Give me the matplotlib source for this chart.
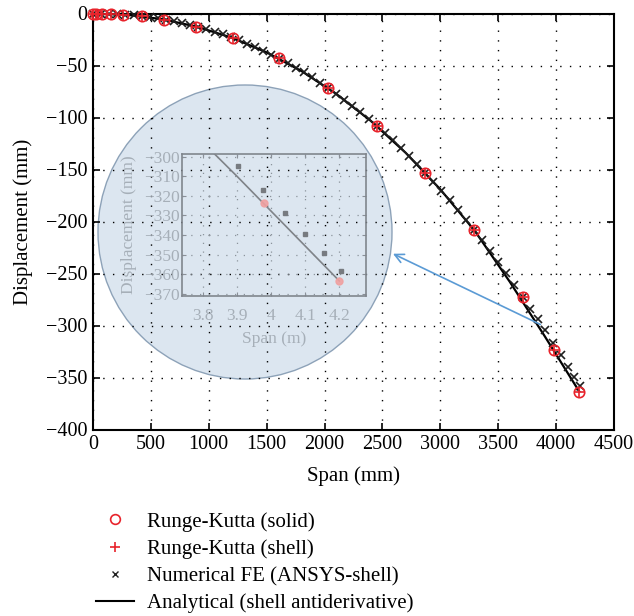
import matplotlib
matplotlib.use("Agg")
import matplotlib.pyplot as plt
from matplotlib.patches import Ellipse
from matplotlib.lines import Line2D

plt.rcParams['font.family'] = ['Liberation Serif', 'DejaVu Serif']
plt.rcParams['mathtext.fontset'] = 'stix'

# === DATA ===
# Runge-Kutta (solid) and (shell), span in mm, displacement in mm
rk_x = [0, 30, 80, 155, 260, 420, 615, 890, 1210, 1610, 2030, 2450, 2870,
        3290, 3710, 3980, 4200]
rk_solid_y = [0.0, 0.0, -0.1, -0.4, -1.0, -2.7, -5.8, -12.5, -23.7, -43.0,
              -71.7, -108.0, -153.3, -208.5, -273.0, -323.5, -363.5]
rk_shell_y = [0.0, 0.0, -0.1, -0.4, -1.0, -2.7, -5.8, -12.5, -23.7, -43.0,
              -71.7, -108.0, -153.3, -208.5, -273.0, -323.5, -363.5]

# Numerical FE (ANSYS-shell) nodes
fe_x = [0, 70, 140, 210, 280, 350, 420, 490, 560, 630, 700, 770, 840, 910,
        980, 1050, 1120, 1190, 1260, 1330, 1400, 1470, 1540, 1610, 1680,
        1750, 1820, 1890, 1960, 2030, 2100, 2170, 2240, 2310, 2380, 2450,
        2520, 2590, 2660, 2730, 2800, 2870, 2940, 3010, 3080, 3150, 3220,
        3290, 3360, 3430, 3500, 3570, 3640, 3710, 3775, 3840, 3904, 3975,
        4041, 4100, 4156, 4205]
fe_y = [0.0, -0.07, -0.29, -0.65, -1.17, -1.83, -2.66, -3.64, -4.79, -6.10,
        -7.58, -9.24, -11.06, -13.07, -15.25, -17.62, -20.18, -22.92, -25.86,
        -28.99, -32.32, -35.85, -39.58, -43.52, -47.67, -52.04, -56.62,
        -61.42, -66.44, -71.69, -77.16, -82.86, -88.80, -94.98, -101.39,
        -108.05, -114.95, -122.10, -129.50, -137.16, -145.08, -153.25,
        -161.69, -170.40, -179.37, -188.62, -198.14, -207.93, -218.02,
        -228.38, -239.04, -249.99, -261.22, -272.76, -283.7, -294.0, -304.7,
        -317.1, -328.8, -339.5, -349.2, -358.3]

# Analytical (shell antiderivative)
an_x = [0, 300, 600, 900, 1200, 1500, 1800, 2100, 2400, 2700, 3000, 3300,
        3600, 3900, 4200]
an_y = [0.0, -1.3, -5.5, -12.8, -23.3, -37.4, -55.3, -77.2, -103.3, -133.9,
        -169.1, -209.4, -258.0, -310.0, -363.5]

x_ticks = [0, 500, 1000, 1500, 2000, 2500, 3000, 3500, 4000, 4500]
y_ticks = [0, -50, -100, -150, -200, -250, -300, -350, -400]
inset_x_ticks = [3.8, 3.9, 4.0, 4.1, 4.2]
inset_x_labels = ['3.8', '3.9', '4', '4.1', '4.2']
inset_y_ticks = [-300, -310, -320, -330, -340, -350, -360, -370]

RED = '#e8232b'
W, H = 634, 616

fig = plt.figure(figsize=(W / 100, H / 100), dpi=100)
ax = fig.add_axes([93 / W, 1 - 429.5 / H, (614 - 93) / W, (429.5 - 13.5) / H])

ax.plot(an_x, an_y, color='black', lw=1.6, zorder=3)
ax.plot(fe_x, fe_y, ls='none', marker='x', ms=6, mew=1.2, color='#1e1e1e',
        zorder=4, clip_on=False)
ax.plot(rk_x, rk_solid_y, ls='none', marker='o', ms=7.5, mfc='none',
        mec=RED, mew=1.2, zorder=5, clip_on=False)
ax.plot(rk_x, rk_shell_y, ls='none', marker='+', ms=7.5, mew=1.2,
        color=RED, zorder=5, clip_on=False)

ax.set_xlim(0, 4500)
ax.set_ylim(-400, 0)
ax.set_xticks(x_ticks)
ax.set_yticks(y_ticks)
ax.grid(True, color='black', lw=1.0, ls=(0, (1, 6)))
ax.tick_params(direction='in', top=True, right=True, length=5, width=1.2,
               labelsize=14.5, pad=4)
for s in ax.spines.values():
    s.set_linewidth(1.5)
ax.set_xlabel('Span (mm)', fontsize=15, labelpad=9)
ax.set_ylabel('Displacement (mm)', fontsize=15, labelpad=9)

# zoom circle (drawn in figure pixels so it stays round)
cx, cy, r = 245, 232, 147
circ = Ellipse((cx / W, 1 - cy / H), 2 * r / W, 2 * r / H,
               transform=fig.transFigure, facecolor='#dce6f0',
               edgecolor='#8da2b8', lw=1.0, zorder=1)
ax.add_patch(circ)

ax.annotate('', xy=(2591, -231), xytext=(3864, -299),
            arrowprops=dict(arrowstyle='->', color='#5b9bd5', lw=1.2,
                            mutation_scale=16, shrinkA=0, shrinkB=0),
            zorder=6)

# inset
GREY_TXT = '#a6afb8'
axi = fig.add_axes([182.3 / W, 1 - 295.7 / H, (365.7 - 182.3) / W,
                    (295.7 - 153.7) / H])
axi.patch.set_visible(False)
ins_an_x = [v / 1000 for v in an_x[-3:]]
axi.plot(ins_an_x, an_y[-3:], color='#7f8388', lw=1.2)
axi.plot([v / 1000 for v in fe_x], fe_y, ls='none', marker='s', ms=2.5,
         color='#777b80')
axi.plot([v / 1000 for v in rk_x], rk_solid_y, ls='none', marker='o', ms=5,
         color='#f0a0a0', alpha=0.9)
axi.set_xlim(3.74, 4.277)
axi.set_ylim(-371, -298.5)
axi.set_xticks(inset_x_ticks)
axi.set_xticklabels(inset_x_labels)
axi.set_yticks(inset_y_ticks)
axi.grid(True, color='#8c949c', lw=0.9, ls=(0, (1, 6)))
axi.tick_params(direction='in', top=True, right=True, length=3,
                color='#8a9098', labelsize=12.5, labelcolor=GREY_TXT, pad=2)
axi.tick_params(axis='x', pad=9)
for s in axi.spines.values():
    s.set_color('#80868d')
    s.set_linewidth(1.2)
axi.set_xlabel('Span (m)', fontsize=12.5, color=GREY_TXT, labelpad=5)
axi.set_ylabel('Displacement (mm)', fontsize=12.5, color=GREY_TXT, labelpad=5)

# legend below the axes
handles = [
    Line2D([], [], ls='none', marker='o', ms=7, mfc='none', mec=RED, mew=1.2),
    Line2D([], [], ls='none', marker='+', ms=7, mew=1.2, color=RED),
    Line2D([], [], ls='none', marker='x', ms=5, mew=1.0, color='#222222'),
    Line2D([], [], color='black', lw=1.5),
]
labels = ['Runge-Kutta (solid)', 'Runge-Kutta (shell)',
          'Numerical FE (ANSYS-shell)', 'Analytical (shell antiderivative)']
fig.legend(handles, labels, loc='upper left',
           bbox_to_anchor=(96 / W, 1 - 512 / H), frameon=False, fontsize=15,
           borderpad=0, borderaxespad=0, handlelength=1.8, handletextpad=0.65,
           labelspacing=0.36)

fig.savefig('out.png', dpi=100)
